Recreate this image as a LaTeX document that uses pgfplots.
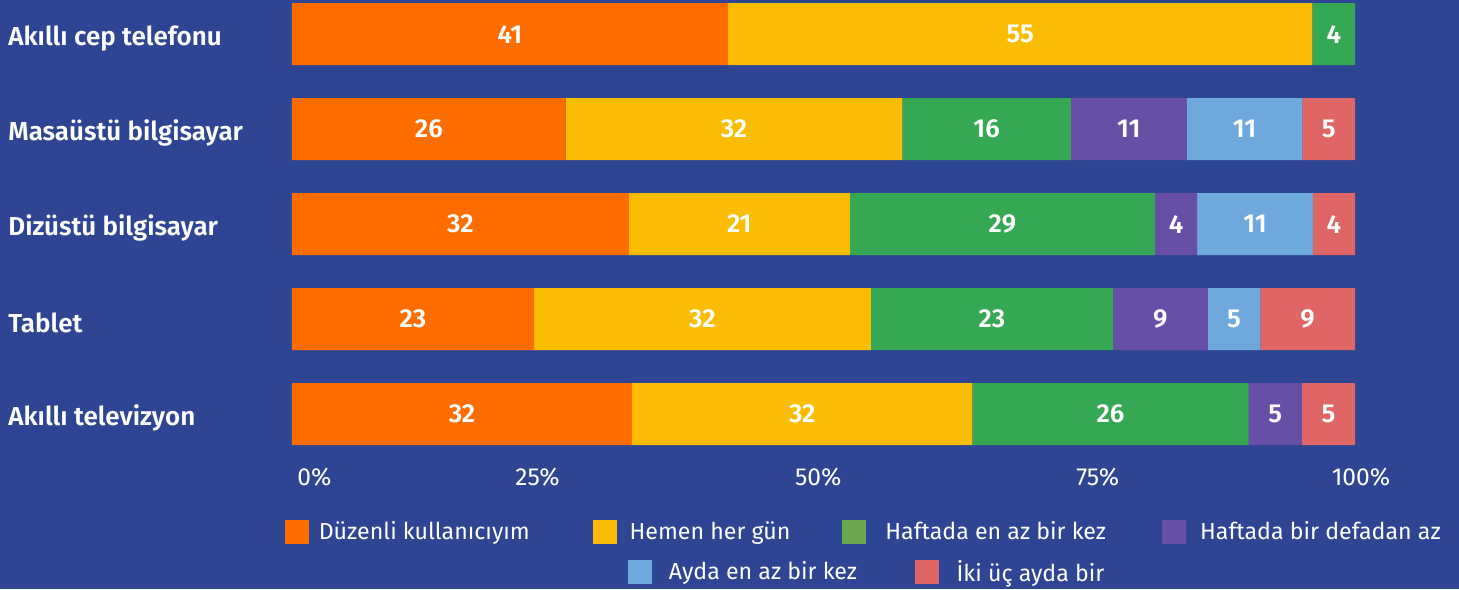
\documentclass[border=0pt]{standalone}
\usepackage{pgfplots}
\pgfplotsset{compat=1.18}
\usepackage{pgfplotstable}
\usepackage{fontspec}
\setmainfont{Fira Sans}[BoldFont={Fira Sans SemiBold}]

\definecolor{bgblue}{HTML}{2E4594}
\definecolor{cOrange}{HTML}{FF6D01}
\definecolor{cYellow}{HTML}{FBBC04}
\definecolor{cGreen}{HTML}{34A853}
\definecolor{cGreenL}{HTML}{6AA84F}
\definecolor{cPurple}{HTML}{674EA7}
\definecolor{cBlue}{HTML}{6FA8DC}
\definecolor{cRed}{HTML}{E06666}

% a..f = share per answer, t = row total (bars are scaled to 100)
\pgfplotstableread{
y a  b  c  d  e  f  t
0 41 55 4  0  0  0  100
1 26 32 16 11 11 5  101
2 32 21 29 4  11 4  101
3 23 32 23 9  5  9  101
4 32 32 26 5  0  5  100
}\usage

\newcommand\lbl{\fontsize{13}{15}\selectfont\bfseries}
\newcommand\leg{\fontsize{11.6}{14}\selectfont}
\newcommand\tkl{\fontsize{12.3}{14}\selectfont}
\newcommand\sqimg[1]{\addlegendimage{legend image code/.code={\fill[#1] (0pt,-5.75pt) rectangle (11.5pt,5.75pt);}}}

\pgfplotsset{
  frame/.style={scale only axis, width=531.5pt, height=223.25pt},
  legrow/.style={legend cell align=left,
    legend style={at={(0,0)}, anchor=west,
      draw=none, fill=none, inner sep=0pt, outer sep=0pt,
      column sep=0pt, row sep=0pt,
      nodes={inner sep=0pt, text=white, font=\leg}}},
}

\begin{document}
\begin{tikzpicture}
\fill[bgblue] (-146pt,-70.85pt) rectangle (583.5pt,223.65pt);
\begin{axis}[
  frame,
  xbar stacked,
  bar width=31pt,
  xmin=0, xmax=100,
  ymin=-0.35, ymax=4.35,
  y dir=reverse,
  axis line style={draw=none},
  tick style={draw=none},
  ytick={0,...,4},
  yticklabels={Akıllı cep telefonu, Masaüstü bilgisayar, Dizüstü bilgisayar, Tablet, Akıllı televizyon},
  yticklabel style={anchor=west, inner sep=0pt, xshift=-142pt, yshift=-2pt, text=white, font=\lbl},
  xtick={2.1,23.1,49.5,75.8,100},
  xticklabels={0\%,25\%,50\%,75\%,\hspace*{6pt}100\%},
  xticklabel style={anchor=base, inner sep=0pt, yshift=-18.9pt, text=white, font=\tkl},
  /pgf/number format/assume math mode=true,
  point meta=explicit,
  nodes near coords={\pgfmathfloatifflags{\pgfplotspointmeta}{0}{}{\pgfmathprintnumber{\pgfplotspointmeta}}},
  every node near coord/.append style={text=white, font=\lbl},
  legrow, legend columns=4,
  legend style={xshift=-3.5pt, yshift=-42.35pt},
]
\addplot[fill=cOrange, draw=none, forget plot] table[x expr=\thisrow{a}*100/\thisrow{t}, y=y, meta=a] {\usage};
\addplot[fill=cYellow, draw=none, forget plot] table[x expr=\thisrow{b}*100/\thisrow{t}, y=y, meta=b] {\usage};
\addplot[fill=cGreen, draw=none, forget plot] table[x expr=\thisrow{c}*100/\thisrow{t}, y=y, meta=c] {\usage};
\addplot[fill=cPurple, draw=none, forget plot] table[x expr=\thisrow{d}*100/\thisrow{t}, y=y, meta=d] {\usage};
\addplot[fill=cBlue, draw=none, forget plot] table[x expr=\thisrow{e}*100/\thisrow{t}, y=y, meta=e] {\usage};
\addplot[fill=cRed, draw=none, forget plot] table[x expr=\thisrow{f}*100/\thisrow{t}, y=y, meta=f] {\usage};

\sqimg{cOrange}
\addlegendentry{\hspace*{5pt}\makebox[137pt][l]{Düzenli kullanıcıyım}}
\sqimg{cYellow}
\addlegendentry{\hspace*{6.5pt}\makebox[106pt][l]{Hemen her gün}}
\sqimg{cGreenL}
\addlegendentry{\hspace*{10pt}\makebox[138.5pt][l]{Haftada en az bir kez}}
\sqimg{cPurple}
\addlegendentry{\hspace*{7pt}Haftada bir defadan az}
\end{axis}

% second legend row
\begin{axis}[
  frame, hide axis,
  xmin=0, xmax=1, ymin=0, ymax=1,
  legrow, legend columns=2,
  legend style={xshift=168pt, yshift=-62.35pt},
]
\sqimg{cBlue}
\addlegendentry{\hspace*{8.5pt}\makebox[123pt][l]{Ayda en az bir kez}}
\sqimg{cRed}
\addlegendentry{\hspace*{9pt}İki üç ayda bir}
\end{axis}
\end{tikzpicture}
\end{document}
